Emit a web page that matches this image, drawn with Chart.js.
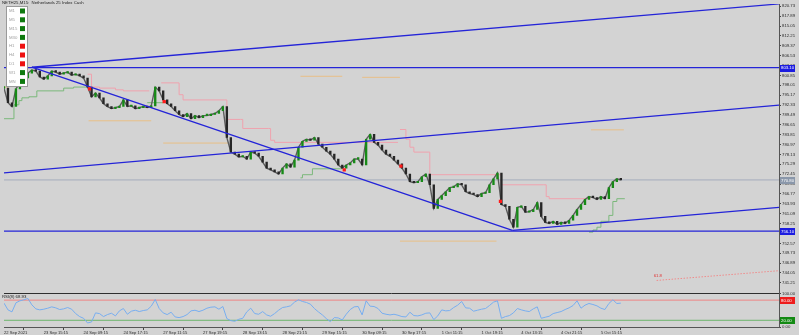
<!DOCTYPE html>
<html>
<head>
<meta charset="utf-8">
<script src="https://cdn.jsdelivr.net/npm/chart.js@4.4.0/dist/chart.umd.min.js"></script>
<style>
  html, body { margin: 0; padding: 0; background: #d3d3d3; }
  canvas { display: block; background: #d3d3d3; }
</style>
</head>
<body>
<canvas id="chart" width="799" height="335"></canvas>
<script>
// ---- data (x = bar slot, 1 slot = 4 px) ----
const closes = [
  797.2, 793.0, 791.9, 797.0, 798.7, 800.1, 801.5, 802.4, 802.1, 800.4,
  799.8, 800.7, 802.1, 801.8, 801.2, 801.5, 801.8, 800.9, 801.2, 800.7,
  800.1, 797.5, 794.7, 795.8, 794.4, 792.7, 791.9, 791.3, 791.6, 791.9,
  793.8, 791.9, 792.1, 791.3, 791.6, 791.9, 791.6, 792.1, 797.5, 796.4,
  793.8, 792.7, 791.9, 790.7, 789.6, 789.0, 789.9, 788.4, 789.3, 788.7,
  789.3, 789.3, 789.6, 789.9, 790.7, 791.9, 783.0, 778.8, 778.2, 777.4,
  777.6, 776.8, 778.8, 778.5, 777.6, 775.9, 774.2, 773.7, 773.1, 772.5,
  774.2, 775.4, 774.5, 776.5, 780.2, 781.9, 782.5, 782.2, 783.0, 781.1,
  780.2, 779.1, 778.2, 776.8, 775.1, 774.2, 775.1, 775.7, 776.8, 776.8,
  775.1, 782.5, 783.9, 781.6, 780.8, 779.4, 778.2, 777.6, 776.5, 775.4,
  774.2, 772.5, 770.3, 770.0, 770.3, 771.7, 772.5, 769.4, 762.6, 765.2,
  766.3, 767.4, 768.6, 768.8, 769.7, 769.4, 767.4, 766.9, 766.6, 766.0,
  766.9, 767.1, 769.4, 771.1, 772.8, 763.7, 763.2, 759.5, 757.2, 762.9,
  763.2, 761.5, 761.7, 762.3, 764.3, 760.3, 758.6, 758.3, 758.9, 758.0,
  758.6, 758.3, 759.2, 760.6, 762.3, 763.7, 765.2, 766.0, 765.7, 765.2,
  766.0, 765.4, 768.6, 770.3, 771.1, 770.8
];

const rsiValues = [
  71, 51, 45, 72, 78, 81, 85, 66, 54, 51,
  53, 56, 60, 57, 52, 54, 58, 53, 40, 31,
  26, 12, 15, 42, 40, 31, 37, 41, 33, 48,
  55, 38, 47, 50, 46, 49, 51, 62, 82, 55,
  42, 37, 44, 30, 28, 31, 37, 48, 50, 46,
  50, 56, 59, 60, 53, 61, 25, 19, 17, 23,
  26, 45, 56, 40, 38, 46, 36, 32, 40, 50,
  58, 60, 63, 74, 81, 76, 73, 68, 55, 45,
  36, 25, 16, 28, 27, 21, 38, 52, 60, 61,
  36, 78, 62, 61, 55, 41, 38, 36, 38, 35,
  31, 30, 44, 34, 33, 36, 41, 42, 22, 33,
  51, 48, 49, 58, 65, 76, 57, 56, 47, 50,
  53, 55, 64, 74, 78, 26, 31, 34, 42, 55,
  51, 48, 46, 54, 60, 26, 29, 32, 40, 43,
  46, 52, 57, 64, 78, 56, 65, 70, 67, 63,
  56, 52, 70, 81, 70, 71
];

const timeLabels = [
  "22 Sep 2021", "23 Sep 15:15", "24 Sep 09:15", "24 Sep 17:15",
  "27 Sep 11:15", "27 Sep 19:15", "28 Sep 13:15", "28 Sep 21:15",
  "29 Sep 15:15", "30 Sep 09:15", "30 Sep 17:15", "1 Oct 11:15",
  "1 Oct 19:15", "4 Oct 13:15", "4 Oct 21:15", "5 Oct 15:15"
];
const timeLabelSlots = [0, 10, 20, 30, 40, 50, 60, 70, 80, 90, 100, 110, 120, 130, 140, 150];

const priceTicks = [
  820.73, 817.89, 815.05, 812.21, 809.37, 806.53, 803.69, 800.85, 798.01, 795.17,
  792.33, 789.49, 786.65, 783.81, 780.97, 778.13, 775.29, 772.45, 769.61, 766.77,
  763.93, 761.09, 758.25, 755.41, 752.57, 749.73, 746.89, 744.05, 741.21
];
const rsiTicks = [0, 100];
const rsiLevels = [80, 20];
const rsiLabel = "RSI(8) 68.93";

// trend lines [x slot], [price]
const upperChannelX = [7, 194.75];
const upperChannelY = [803.2, 821.4];
const downTrendX = [7, 127.75];
const downTrendY = [803.2, 756.3];
const midChannelX = [0, 194.75];
const midChannelY = [772.8, 792.3];
const lowerChannelX = [127.75, 194.75];
const lowerChannelY = [756.3, 762.9];

const resistanceLevel = 803.1;
const supportLevel = 756.1;
const lastPrice = 770.8;

// trailing stops (stepped), null = gap
const resistTrailX = [21, 22, 24, 28, 30, 36.5, 37, 39.5, 43.5, 44, 45, 55.5, 56, 59.5, 60, 66.5, 67, 68, 99, 99.2,
                      99.5, 101, 102, 103, 106.75, 107, 123.75, 125, 135.5, 136.25, 137, 147.5];
const resistTrailY = [801.2, 797.5, 797.2, 796.7, 796.4, 796.4, null, 798.7, 798.7, 795.3, 793.8, 793.8, 788.2, 788.2, 785.6, 785.6, 782.2, 781.6, 781.6, null,
                      785.3, 782.5, 780.2, 778.8, 778.8, 772.3, 772.3, 769.4, 769.4, 766.0, 765.4, 765.4];
const supportTrailX = [0, 2.5, 3.75, 4.5, 6.25, 8.25, 15, 17.5, 20.75, 21,
                       36, 40, 40.5, 74.5, 75, 77.5, 85, 85.5, 147, 148, 149, 150, 152, 153, 154, 156];
const supportTrailY = [788.4, 792.4, 793.6, 794.4, 794.7, 796.4, 797.2, 797.5, 797.5, null,
                       793.0, 793.0, null, 771.4, 772.3, 774.0, 774.0, null, 755.8, 756.4, 757.2, 758.9, 760.6, 764.6, 765.4, 765.4];

// short orange levels
const orangeX = [0, 1, 1.2, 21.25, 37, 37.2, 40, 56.25, 56.5, 74.5, 85, 85.2, 90, 99.5, 99.6, 99.5, 123.75, 124, 147.5, 155.75];
const orangeY = [797.5, 797.5, null, 787.8, 787.8, null, 781.4, 781.4, null, 800.6, 800.6, null, 800.3, 800.3, null, 753.2, 753.2, null, 785.2, 785.2];

// fibonacci line
const fibX = [164, 194.75];
const fibY = [741.9, 744.7];
const fibLabel = "61.8";

// signal markers
const signalX = [21.5, 40.25, 85.5, 99.75, 124.75];
const signalY = [797.0, 793.3, 773.7, 774.8, 764.6];

// multi timeframe panel
const mtfFrames = ["M1", "M5", "M15", "M30", "H1", "H4", "D1", "W1", "MN"];
const mtfUp = [true, true, true, true, false, false, false, true, true];

const titleText = "NETH25,M15:  Netherlands 25 Index Cash";

const FONT = '"Liberation Sans", Arial, sans-serif';
const BLUE = "#2424d8";

function pts(xs, ys) {
    return xs.map((x, i) => ({ x: x, y: ys[i] }));
}

const bodies = closes.map((c, i) => ({ x: i, y: [i ? closes[i - 1] : c, c] }));
const bodyColors = closes.map((c, i) => (i && c < closes[i - 1]) ? "#262626" : "#178a17");

function flat(v) {
    return [{ x: 0, y: v }, { x: 194.75, y: v }];
}

const lineBase = { type: "line", pointRadius: 0, borderWidth: 1, fill: false, spanGaps: false, yAxisID: "y" };

const overlayPlugin = {
    id: "overlay",
    afterDatasetsDraw(chart) {
        const ctx = chart.ctx;
        const area = chart.chartArea;
        const ys = chart.scales.y;
        const xs = chart.scales.x;
        const rs = chart.scales.rsi;
        ctx.save();

        // pane separator
        ctx.strokeStyle = "#2e2e2e";
        ctx.lineWidth = 1;
        ctx.beginPath();
        ctx.moveTo(area.left, Math.round(rs.top) + 0.5);
        ctx.lineTo(area.right, Math.round(rs.top) + 0.5);
        ctx.stroke();

        ctx.font = "4.3px " + FONT;
        ctx.textBaseline = "middle";
        ctx.textAlign = "left";

        // fib label
        ctx.fillStyle = "#e03030";
        ctx.fillText(fibLabel, xs.getPixelForValue(fibX[0]) - 3, ys.getPixelForValue(fibY[0]) - 5);

        // mtf panel
        ctx.fillStyle = "#ffffff";
        ctx.fillRect(6, 6, 21, 80);
        ctx.strokeStyle = "#9a9a9a";
        ctx.strokeRect(6.5, 6.5, 21, 80);
        mtfFrames.forEach((f, i) => {
            const cy = 11 + i * 8.8;
            ctx.fillStyle = "#a0a0a0";
            ctx.fillText(f, 9, cy);
            ctx.fillStyle = mtfUp[i] ? "#0e7a0e" : "#ee1111";
            ctx.fillRect(20, cy - 2.5, 5, 5);
        });

        // title + rsi label
        ctx.fillStyle = "#222";
        ctx.fillText(titleText, 2, 3);
        ctx.fillText(rsiLabel, 2, Math.round(rs.top) + 4);
        ctx.restore();
    },
    afterDraw(chart) {
        const ctx = chart.ctx;
        const area = chart.chartArea;
        const ys = chart.scales.y;
        const rs = chart.scales.rsi;
        const boxes = [
            { y: ys.getPixelForValue(resistanceLevel), text: resistanceLevel.toFixed(2), bg: "#1c1ce0", fg: "#fff" },
            { y: ys.getPixelForValue(lastPrice), text: lastPrice.toFixed(2), bg: "#8a97aa", fg: "#fff" },
            { y: ys.getPixelForValue(supportLevel), text: supportLevel.toFixed(2), bg: "#1c1ce0", fg: "#fff" },
            { y: rs.getPixelForValue(rsiLevels[0]), text: rsiLevels[0].toFixed(2), bg: "#ee1c1c", fg: "#fff" },
            { y: rs.getPixelForValue(rsiLevels[1]), text: rsiLevels[1].toFixed(2), bg: "#138a13", fg: "#fff" }
        ];
        ctx.save();
        ctx.font = "4.3px " + FONT;
        ctx.textBaseline = "middle";
        ctx.textAlign = "left";
        boxes.forEach(b => {
            ctx.fillStyle = b.bg;
            ctx.fillRect(area.right + 1, Math.round(b.y) - 3, 15, 7);
            ctx.fillStyle = b.fg;
            ctx.fillText(b.text, area.right + 2, b.y + 0.5);
        });
        ctx.restore();
    }
};

new Chart(document.getElementById("chart"), {
    type: "line",
    data: {
        datasets: [
            { ...lineBase, data: pts(signalX, signalY), showLine: false, pointRadius: 2.3, pointStyle: "rect",
              pointBackgroundColor: "#ff1a1a", pointBorderWidth: 0 },
            { ...lineBase, data: pts(upperChannelX, upperChannelY), borderColor: BLUE, borderWidth: 1.3 },
            { ...lineBase, data: pts(downTrendX, downTrendY), borderColor: BLUE, borderWidth: 1.3 },
            { ...lineBase, data: pts(midChannelX, midChannelY), borderColor: BLUE, borderWidth: 1.3 },
            { ...lineBase, data: pts(lowerChannelX, lowerChannelY), borderColor: BLUE, borderWidth: 1.3 },
            { ...lineBase, data: flat(resistanceLevel), borderColor: BLUE, borderWidth: 1.3 },
            { ...lineBase, data: flat(supportLevel), borderColor: BLUE, borderWidth: 1.3 },
            { type: "bar", data: bodies, yAxisID: "y", backgroundColor: bodyColors, barThickness: 1.7,
              minBarLength: 1.5, grouped: false, borderWidth: 0 },
            { ...lineBase, data: pts(closes.map((c, i) => i), closes), borderColor: "#5c5c5c", borderWidth: 1.4 },
            { ...lineBase, data: flat(lastPrice), borderColor: "#a4acbc" },
            { ...lineBase, data: pts(resistTrailX, resistTrailY), borderColor: "#f0a2ae", stepped: true },
            { ...lineBase, data: pts(supportTrailX, supportTrailY), borderColor: "#7ab87a", stepped: true },
            { ...lineBase, data: pts(orangeX, orangeY), borderColor: "#e8bf86" },
            { ...lineBase, data: pts(fibX, fibY), borderColor: "#f08a8a", borderDash: [1.5, 1.5] },
            { ...lineBase, yAxisID: "rsi", data: pts(rsiValues.map((v, i) => i), rsiValues), borderColor: "#78aef0" },
            { ...lineBase, yAxisID: "rsi", data: flat(rsiLevels[0]), borderColor: "#ee8585" },
            { ...lineBase, yAxisID: "rsi", data: flat(rsiLevels[1]), borderColor: "#6cb46c" }
        ]
    },
    options: {
        responsive: false,
        animation: false,
        devicePixelRatio: 1,
        layout: { padding: 0 },
        plugins: { legend: { display: false }, tooltip: { enabled: false } },
        scales: {
            x: {
                type: "linear", position: "bottom", min: 0, max: 194.75, offset: false,
                afterBuildTicks: s => { s.ticks = timeLabelSlots.map(v => ({ value: v })); },
                afterFit: s => { s.height = 8; s.paddingLeft = 0; s.paddingRight = 0; },
                ticks: {
                    autoSkip: false, maxRotation: 0, align: "start", padding: 0,
                    font: { size: 4.1, family: FONT }, color: "#2a2a2a",
                    callback: v => timeLabels[timeLabelSlots.indexOf(v)]
                },
                grid: { drawOnChartArea: false, tickLength: 3, color: "#444" },
                border: { display: true, color: "#555" }
            },
            y: {
                type: "linear", position: "right", stack: "panes", stackWeight: 293,
                min: 738.17, max: 821.38,
                afterBuildTicks: s => { s.ticks = priceTicks.map(v => ({ value: v })); },
                afterFit: s => { s.width = 20; s.paddingTop = 0; s.paddingBottom = 0; },
                ticks: { autoSkip: false, padding: 1, font: { size: 4.3, family: FONT }, color: "#2a2a2a",
                         callback: v => v.toFixed(2) },
                grid: { drawOnChartArea: false, tickLength: 2, color: "#444" },
                border: { display: true, color: "#555" }
            },
            rsi: {
                type: "linear", position: "right", stack: "panes", stackWeight: 34,
                min: 0, max: 100, offset: false,
                afterBuildTicks: s => { s.ticks = rsiTicks.map(v => ({ value: v })); },
                afterFit: s => { s.width = 20; s.paddingTop = 0; s.paddingBottom = 0; },
                ticks: { autoSkip: false, padding: 1, font: { size: 4.3, family: FONT }, color: "#2a2a2a",
                         callback: v => v.toFixed(2) },
                grid: { drawOnChartArea: false, tickLength: 2, color: "#444" },
                border: { display: true, color: "#555" }
            }
        }
    },
    plugins: [overlayPlugin]
});
</script>
</body>
</html>
